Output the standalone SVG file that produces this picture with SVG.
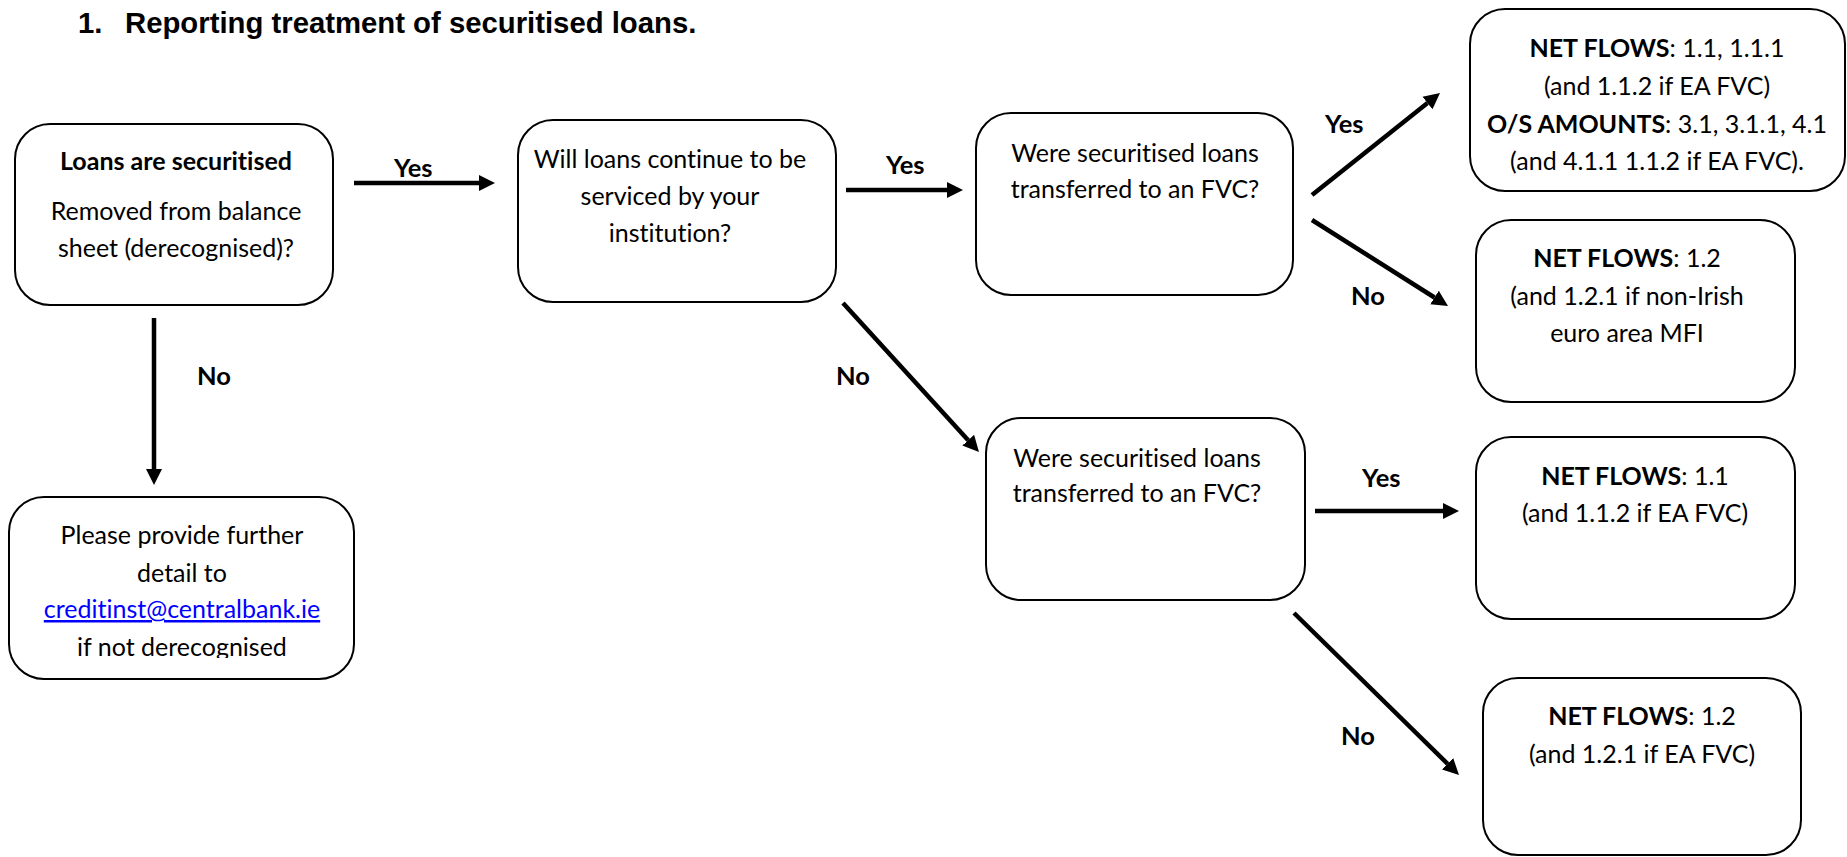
<svg xmlns="http://www.w3.org/2000/svg" width="1847" height="857" viewBox="0 0 1847 857">
<defs>
<marker id="ah" markerUnits="userSpaceOnUse" markerWidth="17" markerHeight="17" refX="0" refY="8" orient="auto" viewBox="0 0 17 16">
<path d="M0,0 L16,8 L0,16 z" fill="#000"/>
</marker>
<clipPath id="clipI"><rect x="9" y="497" width="345" height="161"/></clipPath>
</defs>
<style>
.box{fill:#fff;stroke:#000;stroke-width:2}
.t{font-family:Lato,"Open Sans",sans-serif;font-size:25px;fill:#000;text-anchor:middle;font-variant-ligatures:none}
.b{font-weight:bold}
.lbl{font-family:Lato,"Open Sans",sans-serif;font-size:25.5px;font-weight:bold;fill:#000}
.ln{stroke:#000;stroke-width:4.5;fill:none;marker-end:url(#ah)}
.title{font-family:"Liberation Sans",Arial,sans-serif;font-size:29.3px;font-weight:bold;fill:#000}
.link{fill:#0000ff;text-decoration:underline}
</style>
<rect width="1847" height="857" fill="#fff"/>
<g id="title">
<text class="title" x="78" y="33">1.</text>
<text class="title" x="125" y="33">Reporting treatment of securitised loans.</text>
</g>
<g id="connectors">
<line class="ln" x1="354" y1="183" x2="479" y2="183"/>
<line class="ln" x1="846" y1="190" x2="947" y2="190"/>
<line class="ln" x1="1312" y1="195" x2="1427.5" y2="103"/>
<line class="ln" x1="1312" y1="220" x2="1434.5" y2="297.5"/>
<line class="ln" x1="843" y1="303" x2="968.2" y2="440.2"/>
<line class="ln" x1="1315" y1="511" x2="1443" y2="511"/>
<line class="ln" x1="1294" y1="613" x2="1447.6" y2="763.8"/>
<line class="ln" x1="154" y1="318" x2="154" y2="469"/>
<text class="lbl" x="394" y="177">Yes</text>
<text class="lbl" x="886" y="174">Yes</text>
<text class="lbl" x="1325" y="133">Yes</text>
<text class="lbl" x="1351" y="305">No</text>
<text class="lbl" x="836" y="385">No</text>
<text class="lbl" x="1362" y="487">Yes</text>
<text class="lbl" x="1341" y="745">No</text>
<text class="lbl" x="197" y="385">No</text>
</g>
<g id="nodeA">
<rect class="box" x="15" y="124" width="318" height="181" rx="35"/>
<text class="t b" x="176" y="170">Loans are securitised</text>
<text class="t" x="176" y="220">Removed from balance</text>
<text class="t" x="176" y="257">sheet (derecognised)?</text>
</g>
<g id="nodeB">
<rect class="box" x="518" y="120" width="318" height="182" rx="35"/>
<text class="t" x="670" y="168">Will loans continue to be</text>
<text class="t" x="670" y="205">serviced by your</text>
<text class="t" x="670" y="242">institution?</text>
</g>
<g id="nodeC">
<rect class="box" x="976" y="113" width="317" height="182" rx="35"/>
<text class="t" x="1135" y="162">Were securitised loans</text>
<text class="t" x="1135" y="198">transferred to an FVC?</text>
</g>
<g id="nodeD">
<rect class="box" x="1470" y="9" width="375" height="182" rx="35"/>
<text class="t" x="1657" y="57"><tspan class="b">NET FLOWS</tspan>: 1.1, 1.1.1</text>
<text class="t" x="1657" y="95">(and 1.1.2 if EA FVC)</text>
<text class="t" x="1657" y="133"><tspan class="b">O/S AMOUNTS</tspan>: 3.1, 3.1.1, 4.1</text>
<text class="t" x="1657" y="170">(and 4.1.1 1.1.2 if EA FVC).</text>
</g>
<g id="nodeE">
<rect class="box" x="1476" y="220" width="319" height="182" rx="35"/>
<text class="t" x="1627" y="267"><tspan class="b">NET FLOWS</tspan>: 1.2</text>
<text class="t" x="1627" y="305">(and 1.2.1 if non-Irish</text>
<text class="t" x="1627" y="342">euro area MFI</text>
</g>
<g id="nodeF">
<rect class="box" x="986" y="418" width="319" height="182" rx="35"/>
<text class="t" x="1137" y="467">Were securitised loans</text>
<text class="t" x="1137" y="502">transferred to an FVC?</text>
</g>
<g id="nodeG">
<rect class="box" x="1476" y="437" width="319" height="182" rx="35"/>
<text class="t" x="1635" y="485"><tspan class="b">NET FLOWS</tspan>: 1.1</text>
<text class="t" x="1635" y="522">(and 1.1.2 if EA FVC)</text>
</g>
<g id="nodeH">
<rect class="box" x="1483" y="678" width="318" height="177" rx="35"/>
<text class="t" x="1642" y="725"><tspan class="b">NET FLOWS</tspan>: 1.2</text>
<text class="t" x="1642" y="763">(and 1.2.1 if EA FVC)</text>
</g>
<g id="nodeI">
<rect class="box" x="9" y="497" width="345" height="182" rx="35"/>
<g clip-path="url(#clipI)">
<text class="t" x="182" y="544">Please provide further</text>
<text class="t" x="182" y="582">detail to</text>
<text class="t link" x="182" y="618">creditinst@centralbank.ie</text>
<text class="t" x="182" y="656">if not derecognised</text>
</g>
</g>
</svg>
